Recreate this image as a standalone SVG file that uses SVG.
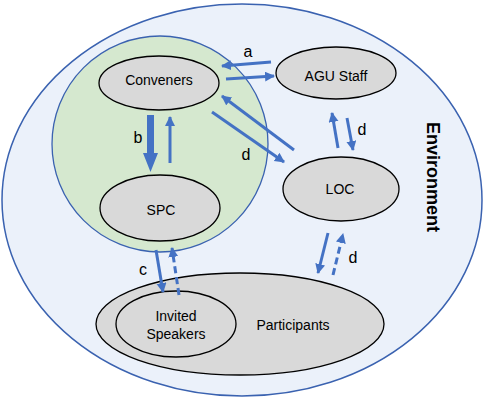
<svg xmlns="http://www.w3.org/2000/svg" width="484" height="400" viewBox="0 0 484 400">
<defs>
<marker id="ah" markerUnits="userSpaceOnUse" markerWidth="11" markerHeight="11" refX="9" refY="5" orient="auto">
<path d="M0,0 L10,5 L0,10 z" fill="#4472C4"/>
</marker>
</defs>
<style>
.node{fill:#D9D9D9;stroke:#000;stroke-width:1.3}
.lbl{font-family:"Liberation Sans",Arial,sans-serif;font-size:14px;fill:#000;text-anchor:middle}
.let{font-family:"Liberation Sans",Arial,sans-serif;font-size:16px;fill:#000;text-anchor:middle}
.arr{stroke:#4472C4;stroke-width:3;fill:none;marker-end:url(#ah)}
.dash{stroke-dasharray:7 4}
</style>
<g id="environment">
<ellipse cx="242" cy="200" rx="240" ry="196" fill="#EBF1FA" stroke="#3A62B0" stroke-width="1.5"/>
<text transform="translate(427,177) rotate(90)" font-family="Liberation Sans,Arial,sans-serif" font-size="18" font-weight="bold" text-anchor="middle" fill="#000">Environment</text>
</g>
<g id="organizers">
<circle cx="160" cy="144" r="108" fill="#D5E8CF" stroke="#3A62B0" stroke-width="1.3"/>
</g>
<g id="conveners">
<ellipse class="node" cx="159" cy="83" rx="60" ry="27"/>
<text class="lbl" x="159" y="85">Conveners</text>
</g>
<g id="agu-staff">
<ellipse class="node" cx="336" cy="73" rx="60" ry="26"/>
<text class="lbl" x="336" y="81">AGU Staff</text>
</g>
<g id="spc">
<ellipse class="node" cx="160" cy="208" rx="60" ry="33"/>
<text class="lbl" x="161" y="215">SPC</text>
</g>
<g id="loc">
<ellipse class="node" cx="341" cy="189" rx="58" ry="32"/>
<text class="lbl" x="340" y="194">LOC</text>
</g>
<g id="participants">
<ellipse class="node" cx="240" cy="324" rx="144" ry="51"/>
<text class="lbl" x="293" y="330">Participants</text>
</g>
<g id="invited-speakers">
<ellipse class="node" cx="176" cy="324" rx="60" ry="33"/>
<text class="lbl" x="176" y="321">Invited</text>
<text class="lbl" x="176" y="339">Speakers</text>
</g>
<g id="connectors">
<line class="arr" x1="271" y1="62" x2="222" y2="66"/>
<line class="arr" x1="226" y1="79" x2="274" y2="76"/>
<line class="arr" x1="294" y1="150" x2="222" y2="96"/>
<line class="arr" x1="212" y1="112" x2="284" y2="162"/>
<line class="arr" x1="338" y1="148" x2="332" y2="113"/>
<line class="arr" x1="347" y1="118" x2="353" y2="150"/>
<path d="M147,115 L154,115 L154,153 L158,153 L150.5,172 L143,153 L147,153 z" fill="#4472C4"/>
<line class="arr" x1="170" y1="163" x2="170" y2="117"/>
<line class="arr" x1="156" y1="250" x2="163" y2="292"/>
<line class="arr dash" x1="179" y1="295" x2="172" y2="248"/>
<line class="arr" x1="328" y1="233" x2="318" y2="273"/>
<line class="arr dash" x1="333" y1="275" x2="343" y2="234"/>
<text class="let" x="248" y="57">a</text>
<text class="let" x="138" y="143">b</text>
<text class="let" x="143" y="275">c</text>
<text class="let" x="246" y="160">d</text>
<text class="let" x="362" y="135">d</text>
<text class="let" x="353" y="263">d</text>
</g>
</svg>
